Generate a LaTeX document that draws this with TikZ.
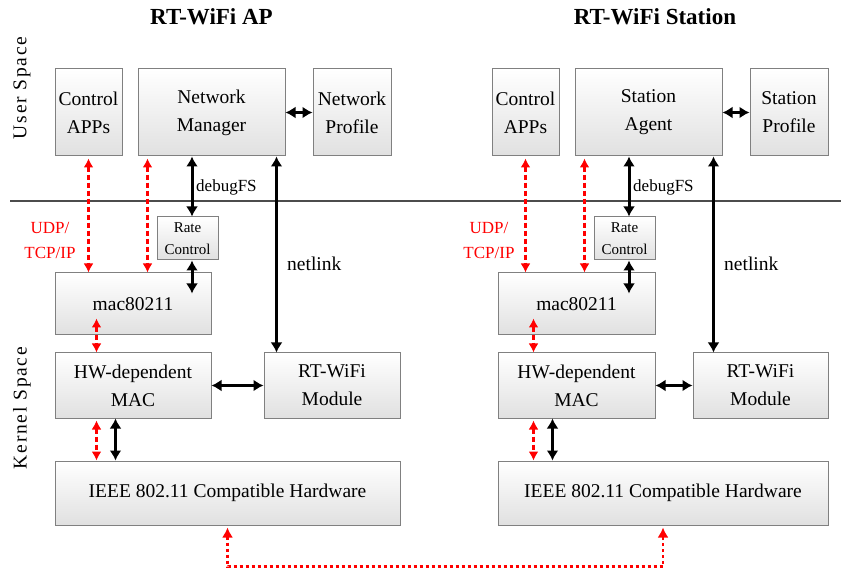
\documentclass[tikz,border=0pt]{standalone}
\usepackage{fontspec}
\setmainfont{Liberation Serif}
\usetikzlibrary{arrows.meta,calc}
\begin{document}
\begin{tikzpicture}[x=1pt,y=-1pt,
  box/.style={draw=black!50, line width=1pt, top color=white, bottom color=black!12, inner sep=0pt, align=center, font=\fontsize{19.5}{28}\selectfont},
  smallbox/.style={box, font=\fontsize{15}{22}\selectfont},
  barrow/.style={line width=3pt, {Latex[length=10pt,width=12pt]}-{Latex[length=10pt,width=12pt]}},
  rarrow/.style={red, line width=2.6pt, dash pattern=on 5pt off 3pt, {Latex[length=9pt,width=10pt]}-{Latex[length=9pt,width=10pt]}},
  rdot/.style={red, line width=2.8pt, dash pattern=on 3.5pt off 2.5pt, {Latex[length=10pt,width=11pt]}-{Latex[length=10pt,width=11pt]}},
  title/.style={font=\fontsize{23}{26}\selectfont\bfseries},
  lbl/.style={font=\fontsize{17}{20}\selectfont, inner sep=0pt},
  biglbl/.style={font=\fontsize{19.5}{22}\selectfont, inner sep=0pt},
  proto/.style={red, align=center, inner sep=0pt, font=\fontsize{17}{25}\selectfont},
  side/.style={rotate=90, inner sep=0pt, font=\fontsize{19.5}{22}\selectfont\addfontfeature{LetterSpace=9}}
]
\useasboundingbox (0,0) rectangle (841,569);

% titles and side labels
\node[title] (tL) at (211.5,17) {RT-WiFi AP};
\node[title] (tR) at (655,17) {RT-WiFi Station};
\node[side] (us) at (22,88) {User Space};
\node[side] (ks) at (22,408) {Kernel Space};

% separator
\coordinate (sepA) at (10,201);
\coordinate (sepB) at (841,201);
\draw[black!70, line width=1.2pt] (sepA) -- (sepB);

% ---------- AP ----------
\node[box, minimum width=67pt, minimum height=87pt] (capL) at (88.5,112.5) {Control\\APPs};
\node[box, minimum width=147pt, minimum height=87pt] (nmL) at (211.5,112.5) {Network\\Manager};
\node[box, minimum width=78pt, minimum height=87pt] (npL) at (352,112.5) {Network\\Profile};
\node[smallbox, minimum width=61pt, minimum height=43pt] (rcL) at (187.5,238.5) {Rate\\Control};
\node[box, minimum width=156pt, minimum height=62pt] (macL) at (133,304) {mac80211};
\node[box, minimum width=156pt, minimum height=65pt] (hwL) at (133,385.5) {HW-dependent\\MAC};
\node[box, minimum width=136pt, minimum height=65pt] (rtL) at (332,385.5) {RT-WiFi\\Module};
\node[box, minimum width=345pt, minimum height=64pt] (ieL) at (227.5,493) {IEEE 802.11 Compatible Hardware};

\node[lbl, anchor=west] (dbgL) at (196,187) {debugFS};
\node[biglbl, anchor=west] (nlL) at (287,264) {netlink};
\node[proto] (udpL) at (50,240) {UDP/\\TCP/IP};

\coordinate (aL1) at ($(nmL.south west)+(10,0)$);
\coordinate (aL2) at ($(rcL.north)+(4.5,0)$);
\coordinate (aL3) at ($(rcL.south)+(4.5,0)$);
\coordinate (aL4) at ($(nmL.south east)+(-9,0)$);
\coordinate (aL5) at ($(macL.south west)+(42,-17)$);
\coordinate (aL6) at ($(hwL.south west)+(42,2)$);
\coordinate (aL7) at ($(hwL.south west)+(61,0)$);
\coordinate (aL8) at ($(capL.south)+(0,2)$);

\draw[barrow] (nmL.east) -- (npL.west);
\draw[rarrow] (aL8) -- (aL8 |- macL.north);
\draw[rarrow] ($(aL1)+(0,2)$) -- (aL1 |- macL.north);
\draw[barrow] (aL2 |- nmL.south) -- (aL2);
\draw[barrow] (aL3) -- ++(0,33);
\draw[barrow] (aL4) -- (aL4 |- rtL.north);
\draw[rarrow] (aL5) -- (aL5 |- hwL.north);
\draw[barrow] (hwL.east) -- (rtL.west);
\draw[rarrow] (aL6) -- (aL6 |- ieL.north);
\draw[barrow] (aL7) -- (aL7 |- ieL.north);

% ---------- Station ----------
\node[box, minimum width=67pt, minimum height=87pt] (capR) at (525.5,112.5) {Control\\APPs};
\node[box, minimum width=147pt, minimum height=87pt] (saR) at (648.5,112.5) {Station\\Agent};
\node[box, minimum width=78pt, minimum height=87pt] (spR) at (789,112.5) {Station\\Profile};
\node[smallbox, minimum width=61pt, minimum height=43pt] (rcR) at (624.5,238.5) {Rate\\Control};
\node[box, minimum width=157pt, minimum height=62pt] (macR) at (576.5,304) {mac80211};
\node[box, minimum width=157pt, minimum height=65pt] (hwR) at (576.5,385.5) {HW-dependent\\MAC};
\node[box, minimum width=135pt, minimum height=65pt] (rtR) at (760.5,385.5) {RT-WiFi\\Module};
\node[box, minimum width=330pt, minimum height=64pt] (ieR) at (663,493) {IEEE 802.11 Compatible Hardware};

\node[lbl, anchor=west] (dbgR) at (633,187) {debugFS};
\node[biglbl, anchor=west] (nlR) at (724,264) {netlink};
\node[proto] (udpR) at (489,240) {UDP/\\TCP/IP};

\coordinate (aR1) at ($(saR.south west)+(10,0)$);
\coordinate (aR2) at ($(rcR.north)+(4.5,0)$);
\coordinate (aR3) at ($(rcR.south)+(4.5,0)$);
\coordinate (aR4) at ($(saR.south east)+(-9,0)$);
\coordinate (aR5) at ($(macR.south west)+(36,-17)$);
\coordinate (aR6) at ($(hwR.south west)+(36,2)$);
\coordinate (aR7) at ($(hwR.south west)+(55,0)$);
\coordinate (aR8) at ($(capR.south)+(0,2)$);

\draw[barrow] (saR.east) -- (spR.west);
\draw[rarrow] (aR8) -- (aR8 |- macR.north);
\draw[rarrow] ($(aR1)+(0,2)$) -- (aR1 |- macR.north);
\draw[barrow] (aR2 |- saR.south) -- (aR2);
\draw[barrow] (aR3) -- ++(0,33);
\draw[barrow] (aR4) -- (aR4 |- rtR.north);
\draw[rarrow] (aR5) -- (aR5 |- hwR.north);
\draw[barrow] (hwR.east) -- (rtR.west);
\draw[rarrow] (aR6) -- (aR6 |- ieR.north);
\draw[barrow] (aR7) -- (aR7 |- ieR.north);

% wireless link
\coordinate (wl) at ($(ieL.south)+(0,2)$);
\coordinate (wr) at ($(ieR.south)+(0,2)$);
\draw[rdot] (wl) -- ++(0,39) -| (wr);
\end{tikzpicture}
\end{document}
